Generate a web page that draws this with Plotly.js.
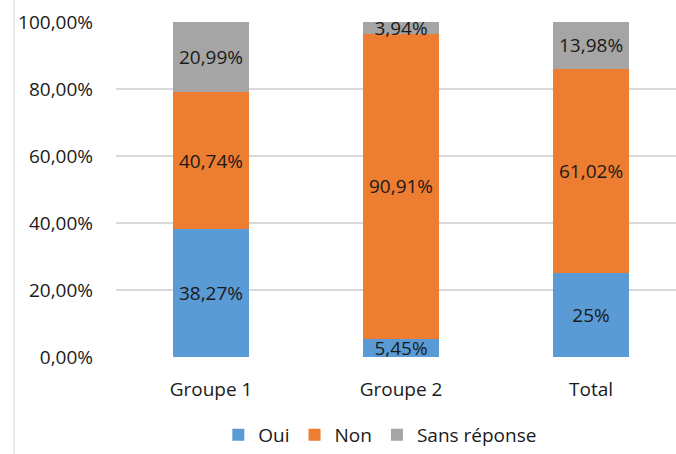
<!DOCTYPE html>
<html><head><meta charset="utf-8">
<script src="https://cdn.plot.ly/plotly-3.0.1.min.js"></script>
<style>html,body{margin:0;padding:0;background:#fff}#chart{width:676px;height:454px}</style>
</head><body><div id="chart"></div>
<script>
const categories = ["Groupe 1", "Groupe 2", "Total"];
const oui = [38.27, 5.45, 25];
const non = [40.74, 90.91, 61.02];
const sansReponse = [20.99, 3.94, 13.98];
const ouiLabels = ["38,27%", "5,45%", "25%"];
const nonLabels = ["40,74%", "90,91%", "61,02%"];
const sansLabels = ["20,99%", "3,94%", "13,98%"];
const tickVals = [0, 20, 40, 60, 80, 100];
const tickText = ["0,00%", "20,00%", "40,00%", "60,00%", "80,00%", "100,00%"];

const font = "Open Sans, Noto Sans, sans-serif";
const fs = 19;
function tr(name, y, text, color) {
  return {type: "bar", name, x: categories, y, text, textposition: "inside",
    insidetextanchor: "middle", constraintext: "none", cliponaxis: true,
    textfont: {family: font, size: fs, color: "#1a1a1a"},
    marker: {color, line: {width: 0}}, width: 0.4, hoverinfo: "skip"};
}
const data = [
  tr("Oui", oui, ouiLabels, "#5B9BD5"),
  tr("Non", non, nonLabels, "#ED7D31"),
  tr("Sans réponse", sansReponse, sansLabels, "#A5A5A5")
];
const layout = {
  width: 676, height: 454, barmode: "stack",
  margin: {l: 116, r: 0, t: 22, b: 92},
  paper_bgcolor: "#fff", plot_bgcolor: "#fff",
  font: {family: font, size: fs, color: "#1a1a1a"},
  xaxis: {range: [-0.5, 2.447], showgrid: false, zeroline: false, showline: false,
    ticks: "", ticklabelstandoff: 19, tickfont: {size: fs}, fixedrange: true},
  yaxis: {range: [0, 100], tickvals: tickVals, ticktext: tickText, showgrid: true,
    gridcolor: "#D9D9D9", gridwidth: 1.5, zeroline: false, showline: false,
    ticks: "", ticklabelstandoff: 22, tickfont: {size: fs}, fixedrange: true},
  showlegend: true,
  legend: {orientation: "h", x: 0.472, xanchor: "center", y: -0.234, yanchor: "middle",
    font: {size: fs}, traceorder: "normal", itemwidth: 30},
  shapes: [{type: "line", xref: "paper", yref: "paper", x0: -0.182, x1: -0.182, y0: -0.3, y1: 1.07,
    line: {color: "#D9D9D9", width: 1}}]
};
Plotly.newPlot("chart", data, layout, {displayModeBar: false, staticPlot: true});
</script></body></html>
